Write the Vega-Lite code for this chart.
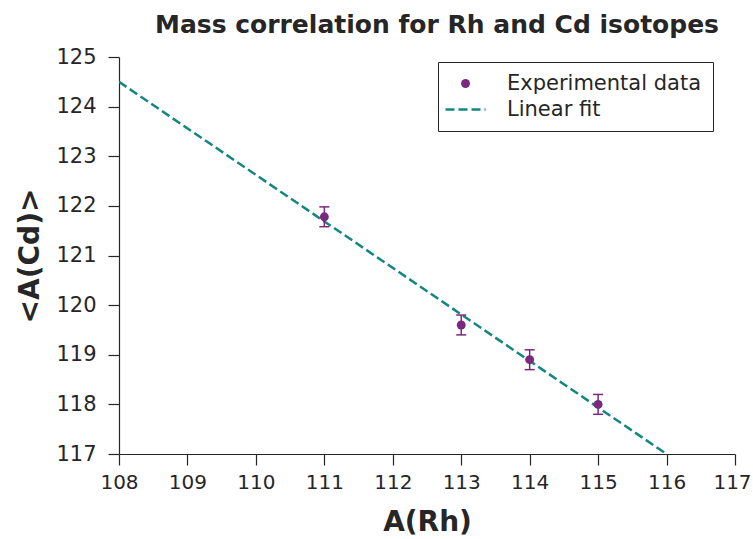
{
  "$schema": "https://vega.github.io/schema/vega-lite/v6.json",
  "autosize": "none",
  "width": 616,
  "height": 397,
  "padding": {"left": 119, "top": 57, "right": 18, "bottom": 85},
  "background": "white",
  "config": {
    "font": "DejaVu Sans",
    "view": {"stroke": null},
    "axis": {"grid": false, "domainColor": "#262626", "tickColor": "#262626", "labelColor": "#262626", "titleColor": "#262626", "labelFontSize": 21, "titleFontSize": 28, "titleFontWeight": "bold", "tickSize": 11, "domainWidth": 1.2, "tickWidth": 1.2, "labelOverlap": false, "labelFlush": false, "format": "d"}
  },
  "title": {"text": "Mass correlation for Rh and Cd isotopes", "fontSize": 25, "fontWeight": "bold", "color": "#262626", "anchor": "middle", "dx": 10, "offset": 8},
  "datasets": {
    "exp": [
      {"A_Rh": 111, "A_Cd": 121.78, "lo": 121.58, "hi": 121.98, "series": "Experimental data"},
      {"A_Rh": 113, "A_Cd": 119.6, "lo": 119.4, "hi": 119.8, "series": "Experimental data"},
      {"A_Rh": 114, "A_Cd": 118.9, "lo": 118.7, "hi": 119.1, "series": "Experimental data"},
      {"A_Rh": 115, "A_Cd": 118.0, "lo": 117.8, "hi": 118.2, "series": "Experimental data"}
    ],
    "fit": [
      {"A_Rh": 108, "A_Cd": 124.5, "series": "Linear fit"},
      {"A_Rh": 116, "A_Cd": 117.0, "series": "Linear fit"}
    ]
  },
  "layer": [
    {
      "data": {"name": "fit"},
      "mark": {"type": "line", "strokeWidth": 2.5, "strokeDash": [9, 4], "clip": true},
      "encoding": {
        "x": {"field": "A_Rh", "type": "quantitative", "scale": {"domain": [108, 117], "nice": false, "zero": false}, "axis": {"title": "A(Rh)", "values": [108,109,110,111,112,113,114,115,116,117], "labelFontSize": 20, "labelPadding": 7, "titlePadding": 16, "labelOffset": {"condition": {"test": "datum.value == 117", "value": -3}, "value": 0}}},
        "y": {"field": "A_Cd", "type": "quantitative", "scale": {"domain": [117, 125], "nice": false, "zero": false}, "axis": {"title": "<A(Cd)>", "values": [117,118,119,120,121,122,123,124,125], "labelPadding": 12, "titlePadding": 11}},
        "color": {"field": "series", "type": "nominal", "scale": {"domain": ["Experimental data", "Linear fit"], "range": ["#7a2a7e", "#148680"]}, "legend": {
          "title": null, "orient": "none", "legendX": 319, "legendY": 5,
          "strokeColor": "#262626", "padding": 11, "labelFontSize": 21, "labelColor": "#262626", "labelLimit": 400,
          "symbolSize": 1600, "symbolOffset": 6, "labelOffset": 31, "rowPadding": 4,
          "values": ["Experimental data", "Linear fit"],
          "encode": {"symbols": {"update": {
            "shape": {"signal": "datum.value == 'Linear fit' ? 'stroke' : 'circle'"},
            "size": {"signal": "datum.value == 'Linear fit' ? 1600 : 80"},
            "fill": {"signal": "datum.value == 'Linear fit' ? 'transparent' : '#7a2a7e'"},
            "stroke": {"signal": "datum.value == 'Linear fit' ? '#148680' : '#7a2a7e'"},
            "strokeWidth": {"signal": "datum.value == 'Linear fit' ? 2.5 : 0"},
            "strokeDash": {"signal": "datum.value == 'Linear fit' ? [9, 4] : []"},
            "opacity": {"value": 1}
          }}}
        }}
      }
    },
    {
      "data": {"name": "exp"},
      "mark": {"type": "rule", "color": "#7a2a7e", "strokeWidth": 1.5},
      "encoding": {
        "x": {"field": "A_Rh", "type": "quantitative"},
        "y": {"field": "lo", "type": "quantitative"},
        "y2": {"field": "hi"}
      }
    },
    {
      "data": {"name": "exp"},
      "mark": {"type": "tick", "orient": "horizontal", "color": "#7a2a7e", "size": 10, "thickness": 1.5, "opacity": 1},
      "encoding": {
        "x": {"field": "A_Rh", "type": "quantitative"},
        "y": {"field": "lo", "type": "quantitative"}
      }
    },
    {
      "data": {"name": "exp"},
      "mark": {"type": "tick", "orient": "horizontal", "color": "#7a2a7e", "size": 10, "thickness": 1.5, "opacity": 1},
      "encoding": {
        "x": {"field": "A_Rh", "type": "quantitative"},
        "y": {"field": "hi", "type": "quantitative"}
      }
    },
    {
      "data": {"name": "exp"},
      "mark": {"type": "point", "filled": true, "shape": "circle", "size": 80, "opacity": 1},
      "encoding": {
        "x": {"field": "A_Rh", "type": "quantitative"},
        "y": {"field": "A_Cd", "type": "quantitative"},
        "color": {"field": "series", "type": "nominal"}
      }
    }
  ]
}
